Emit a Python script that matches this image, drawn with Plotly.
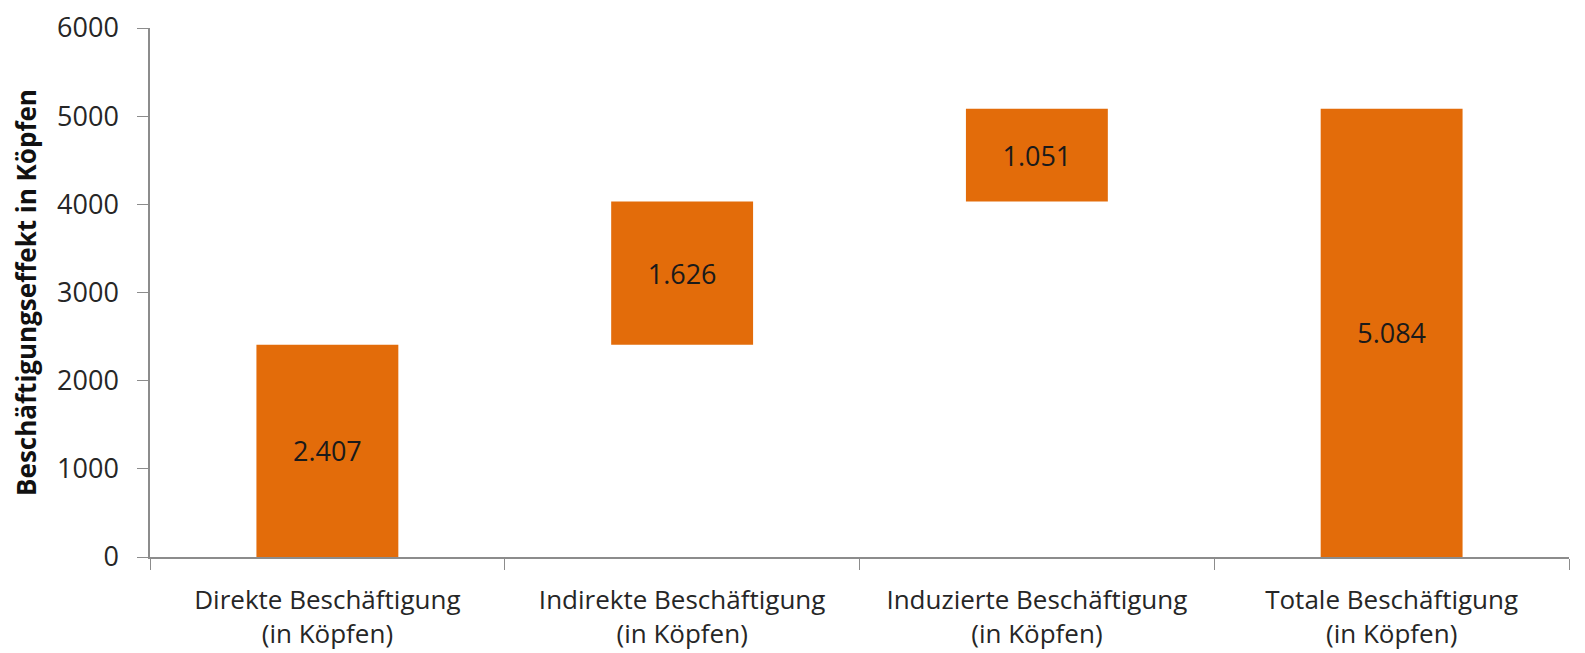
import plotly.graph_objects as go

categories = ["Direkte Beschäftigung<br>(in Köpfen)", "Indirekte Beschäftigung<br>(in Köpfen)",
              "Induzierte Beschäftigung<br>(in Köpfen)", "Totale Beschäftigung<br>(in Köpfen)"]
values = [2407, 1626, 1051, 5084]
measures = ["relative", "relative", "relative", "total"]
labels = [f"{v:,}".replace(",", ".") for v in values]
y_ticks = [0, 1000, 2000, 3000, 4000, 5000, 6000]

orange = "#E36C0A"
font_family = "'Open Sans', sans-serif"

fig = go.Figure(go.Waterfall(
    x=categories,
    y=values,
    measure=measures,
    text=labels,
    textposition="inside",
    insidetextanchor="middle",
    textfont=dict(family=font_family, size=27, color="#1a1a1a"),
    increasing=dict(marker=dict(color=orange)),
    decreasing=dict(marker=dict(color=orange)),
    totals=dict(marker=dict(color=orange)),
    connector=dict(visible=False),
    width=0.4,
    hoverinfo="skip",
))

fig.update_layout(
    width=1577, height=645,
    margin=dict(l=142, r=16, t=20, b=96),
    plot_bgcolor="white", paper_bgcolor="white",
    showlegend=False,
    font=dict(family=font_family, size=26, color="#262626"),
)
fig.update_yaxes(
    range=[0, 6000], tickvals=y_ticks, automargin=False,
    showgrid=False, zeroline=False,
    showline=True, linecolor="#8c8c8c", linewidth=1.5,
    ticks="outside", ticklen=11, tickcolor="#8c8c8c",
    tickfont=dict(size=27), ticklabelstandoff=13, ticklabeloverflow="allow",
    title=dict(text="<b>Beschäftigungseffekt in Köpfen</b>", font=dict(size=26, color="#111111"), standoff=13),
)
fig.update_xaxes(
    showgrid=False, showline=True, linecolor="#8c8c8c", linewidth=1.5, automargin=False,
    ticks="outside", ticklen=11, tickcolor="#8c8c8c", tickson="boundaries",
    tickfont=dict(size=26), ticklabelstandoff=19,
)

fig.write_html("out.html")
